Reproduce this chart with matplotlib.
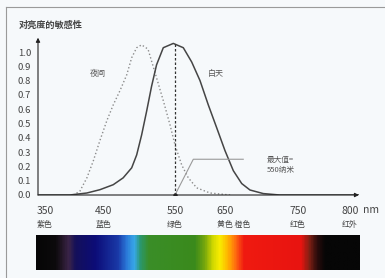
import numpy as np
import matplotlib
matplotlib.use("Agg")
import matplotlib.pyplot as plt
from matplotlib.colors import LinearSegmentedColormap
from matplotlib.lines import Line2D

plt.rcParams['font.family'] = ['Noto Sans CJK SC', 'DejaVu Sans']

# tick wavelengths and the (uneven) place each one sits on the drawing
tick_nm = [350, 450, 550, 650, 750, 800]
tick_pos = [45, 104, 175, 225, 298, 350]
color_names = ['紫色', '蓝色', '绿色', '黄色 橙色', '红色', '红外']
y_ticks = [0.0, 0.1, 0.2, 0.3, 0.4, 0.5, 0.6, 0.7, 0.8, 0.9, 1.0]

# daytime (photopic) sensitivity
day_nm = [340, 392, 421, 443, 463, 477, 489, 496, 503, 510, 517, 524, 533.5, 547.6,
          566.6, 583.4, 600, 616.6, 633.4, 650, 661.4, 672.9, 684.2, 702.4, 725, 808]
day_val = [0.0, 0.0, 0.014, 0.037, 0.072, 0.12, 0.19, 0.28, 0.42, 0.585, 0.76, 0.91, 1.03, 1.06,
           1.03, 0.93, 0.80, 0.63, 0.47, 0.31, 0.17, 0.08, 0.035, 0.01, 0.0, 0.0]

# night (scotopic) sensitivity
night_nm = [398, 409, 421, 432, 443, 454, 463, 472.5, 482, 489, 496, 503, 512,
            524, 533.5, 543, 550, 563.4, 576.6, 593.4, 620, 657]
night_val = [0.0, 0.026, 0.12, 0.24, 0.38, 0.52, 0.63, 0.73, 0.84, 0.96, 1.03, 1.05, 1.02,
             0.82, 0.66, 0.49, 0.35, 0.21, 0.12, 0.05, 0.014, 0.0]

peak_nm = 550
peak_val = 1.06

# spectrum strip colour stops (fraction along strip, colour)
spec_stops = [(0.000, '#060606'), (0.059, '#0c0a0c'), (0.083, '#2a1a30'), (0.099, '#3a2448'),
              (0.120, '#14105a'), (0.182, '#0c0c78'), (0.253, '#1a3aa8'), (0.278, '#2a78d8'),
              (0.302, '#38a8e8'), (0.321, '#2a9870'), (0.346, '#3a8e28'), (0.491, '#3a8a1c'),
              (0.522, '#78a80c'), (0.546, '#d0d800'), (0.568, '#f8ec00'), (0.593, '#ffb400'),
              (0.617, '#ff6a10'), (0.642, '#f01a10'), (0.821, '#e81410'), (0.846, '#802014'),
              (0.870, '#2a0c0c'), (0.895, '#060606'), (1.000, '#060606')]

W, H = 385, 278
ext_nm = [300] + tick_nm + [850]
ext_pos = [45 - 29.5] + tick_pos + [350 + 52]


def fwd(x):
    return np.interp(x, ext_nm, ext_pos)


def inv(p):
    return np.interp(p, ext_pos, ext_nm)


fig = plt.figure(figsize=(W / 100, H / 100), dpi=100, facecolor='#f6f9fb')

# frame lines (top and left)
fig.add_artist(Line2D([6 / W, 1], [1 - 7 / H] * 2, color='#9a9a9a', lw=0.8))
fig.add_artist(Line2D([6 / W] * 2, [0, 1 - 7 / H], color='#9a9a9a', lw=0.8))

x0, x1, y0, y1 = 38, 359, 195, 37.7
ax = fig.add_axes([x0 / W, 1 - y0 / H, (x1 - x0) / W, (y0 - y1) / H])
ax.patch.set_alpha(0)
ax.set_xscale('function', functions=(fwd, inv))
ax.set_xlim(inv(x0), inv(x1))
ax.set_ylim(0, 1.1)
for s in ax.spines.values():
    s.set_visible(False)

ax.plot(night_nm, night_val, ls=':', color='#8c8c8c', lw=1.0)
ax.plot(day_nm, day_val, '-', color='#454545', lw=1.1)
ax.plot([peak_nm, peak_nm], [0, peak_val], ls=(0, (2, 1.6)), color='#333333', lw=0.9)
ax.plot([675, 586.6, peak_nm], [0.25, 0.25, 0.0], color='#9a9a9a', lw=0.8)
ax.plot([peak_nm], [0], 'o', color='#222222', ms=2.2)

# axes with arrows
arrow = dict(arrowstyle='-|>', color='#222222', lw=0.8, mutation_scale=6, shrinkA=0, shrinkB=0)
ax.annotate('', xy=(1, 0), xytext=(0, 0), xycoords='axes fraction', arrowprops=arrow)
ax.annotate('', xy=(0, 1), xytext=(0, 0), xycoords='axes fraction', arrowprops=arrow)

ax.set_yticks(y_ticks)
ax.set_yticklabels(['%.1f' % v for v in y_ticks])
ax.set_xticks(tick_nm)
ax.set_xticklabels([str(v) for v in tick_nm])
ax.tick_params(axis='y', length=0, pad=5, labelsize=6.8, labelcolor='#444444')
ax.tick_params(axis='x', length=0, pad=8, labelsize=7.5, labelcolor='#444444')
ax.xaxis.set_minor_locator(matplotlib.ticker.NullLocator())

for nm, name in zip(tick_nm, color_names):
    if name == '黄色 橙色':
        ax.annotate(name, xy=(nm, 0), xycoords=('data', 'axes fraction'), xytext=(-8, -30),
                    textcoords='offset pixels', ha='left', va='center', fontsize=5.7, color='#444444')
    else:
        ax.annotate(name, xy=(nm, 0), xycoords=('data', 'axes fraction'), xytext=(0, -29),
                    textcoords='offset pixels', ha='center', va='center', fontsize=5.7, color='#444444')

ax.annotate('nm', xy=(1, 0), xycoords='axes fraction', xytext=(4, -15), textcoords='offset pixels',
            ha='left', va='center', fontsize=7.5, color='#444444')

ax.text(440, 0.85, '夜间', fontsize=5.8, color='#555555', ha='center', va='center')
ax.text(632, 0.85, '白天', fontsize=5.8, color='#555555', ha='center', va='center')
ax.text(707, 0.21, '最大值=\n550纳米', fontsize=5.5, color='#555555', ha='left', va='center',
        linespacing=1.2)

fig.text(19 / W, 1 - 25 / H, '对亮度的敏感性', fontsize=6.6, fontweight='bold', color='#444444',
         ha='left', va='center')

# spectrum strip
sax = fig.add_axes([36 / W, 1 - 270 / H, (360 - 36) / W, 35 / H])
cmap = LinearSegmentedColormap.from_list('spec', spec_stops)
sax.imshow(np.linspace(0, 1, 400)[None, :], aspect='auto', cmap=cmap)
sax.set_axis_off()

fig.savefig('out.png', dpi=100, facecolor=fig.get_facecolor())
